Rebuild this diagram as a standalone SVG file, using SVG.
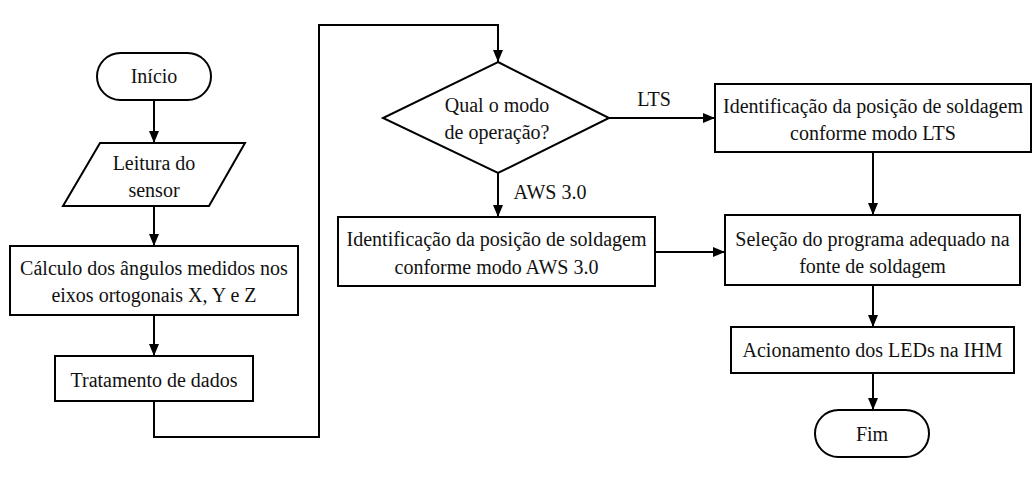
<svg xmlns="http://www.w3.org/2000/svg" width="1035" height="478" viewBox="0 0 1035 478">
<style>
.s{fill:#fff;stroke:#000;stroke-width:2}
.t{font-family:"Times New Roman",Tinos,"Liberation Serif",serif;font-size:20px;fill:#111;text-anchor:middle}
.c{fill:none;stroke:#000;stroke-width:2}
</style>
<defs>
<marker id="ah" viewBox="0 0 12 10" refX="12" refY="5" markerWidth="12" markerHeight="10" markerUnits="userSpaceOnUse" orient="auto">
<path d="M0,0 L12,5 L0,10 z" fill="#000"/>
</marker>
</defs>
<rect width="1035" height="478" fill="#fff"/>
<g id="connectors">
<path class="c" d="M154,100 V143" marker-end="url(#ah)"/>
<path class="c" d="M154,206 V246" marker-end="url(#ah)"/>
<path class="c" d="M154,315 V356" marker-end="url(#ah)"/>
<path class="c" d="M154,401 V437 H319 V25 H498 V62" marker-end="url(#ah)"/>
<path class="c" d="M609,118 H715" marker-end="url(#ah)"/>
<path class="c" d="M498,173 V217" marker-end="url(#ah)"/>
<path class="c" d="M655,252 H725" marker-end="url(#ah)"/>
<path class="c" d="M873,152 V215" marker-end="url(#ah)"/>
<path class="c" d="M873,285 V327" marker-end="url(#ah)"/>
<path class="c" d="M873,373 V410" marker-end="url(#ah)"/>
<text class="t" x="654" y="106">LTS</text>
<text class="t" x="550" y="199">AWS 3.0</text>
</g>
<g id="inicio">
<rect class="s" x="97" y="53" width="114" height="47" rx="23.5"/>
<text class="t" x="154" y="83">Início</text>
</g>
<g id="leitura">
<polygon class="s" points="100,143 245,143 209,206 63,206"/>
<text class="t" x="154" y="170">Leitura do</text>
<text class="t" x="154" y="197">sensor</text>
</g>
<g id="calculo">
<rect class="s" x="10" y="246" width="288" height="69"/>
<text class="t" x="154" y="275">Cálculo dos ângulos medidos nos</text>
<text class="t" x="154" y="302">eixos ortogonais X, Y e Z</text>
</g>
<g id="tratamento">
<rect class="s" x="55" y="356" width="198" height="45"/>
<text class="t" x="154" y="387">Tratamento de dados</text>
</g>
<g id="decisao">
<polygon class="s" points="498,62 609,118 498,173 383,118"/>
<text class="t" x="497" y="112">Qual o modo</text>
<text class="t" x="497" y="139">de operação?</text>
</g>
<g id="lts">
<rect class="s" x="715" y="84" width="316" height="68"/>
<text class="t" x="873" y="113">Identificação da posição de soldagem</text>
<text class="t" x="873" y="140">conforme modo LTS</text>
</g>
<g id="aws">
<rect class="s" x="338" y="217" width="317" height="69"/>
<text class="t" x="496.5" y="246">Identificação da posição de soldagem</text>
<text class="t" x="496.5" y="274">conforme modo AWS 3.0</text>
</g>
<g id="selecao">
<rect class="s" x="725" y="215" width="295" height="70"/>
<text class="t" x="872.5" y="246">Seleção do programa adequado na</text>
<text class="t" x="872.5" y="273">fonte de soldagem</text>
</g>
<g id="acionamento">
<rect class="s" x="731" y="327" width="283" height="46"/>
<text class="t" x="872.5" y="357">Acionamento dos LEDs na IHM</text>
</g>
<g id="fim">
<rect class="s" x="815" y="410" width="114" height="47" rx="23.5"/>
<text class="t" x="872" y="441">Fim</text>
</g>
</svg>
